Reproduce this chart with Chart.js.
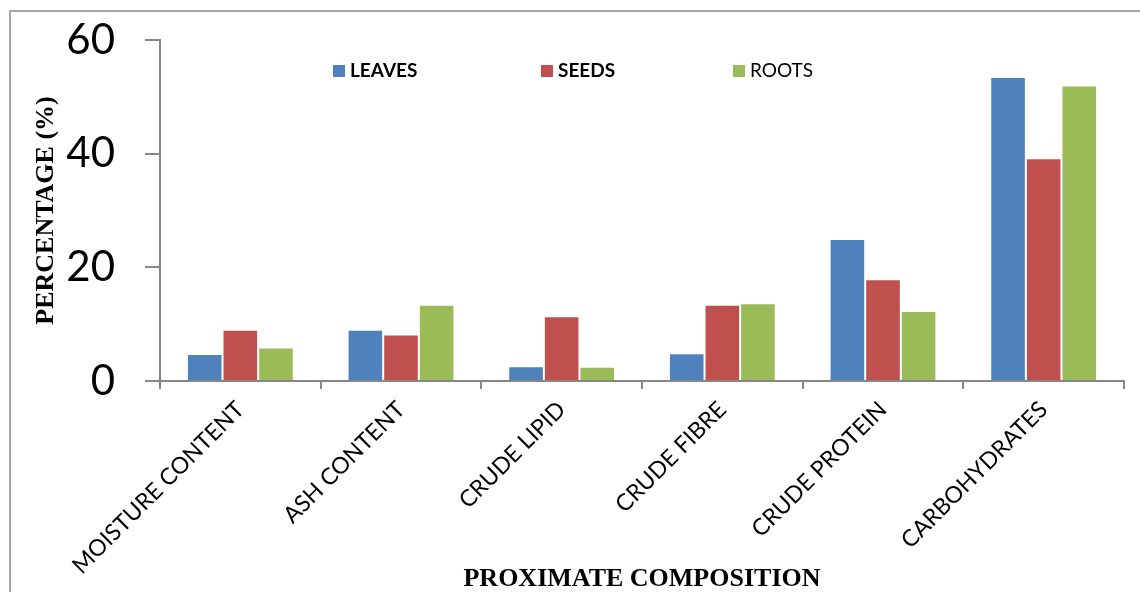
<!DOCTYPE html>
<html>
<head>
<meta charset="utf-8">
<script src="https://cdn.jsdelivr.net/npm/chart.js@4.4.1/dist/chart.umd.min.js"></script>
<style>
  html, body { margin: 0; padding: 0; background: #ffffff; overflow: hidden; }
  #wrap { position: relative; width: 1140px; height: 592px; }
  #frame { position: absolute; left: 9px; top: 10px; width: 1160px; height: 600px; border: 2px solid #a6a6a6; box-sizing: border-box; }
  canvas { position: absolute; left: 0; top: 0; }
</style>
</head>
<body>
<div id="wrap">
  <div id="frame"></div>
  <canvas id="chart" width="1140" height="592"></canvas>
</div>
<script>
// Proximate composition (%) of leaves, seeds and roots
const categories = ['MOISTURE CONTENT', 'ASH CONTENT', 'CRUDE LIPID', 'CRUDE FIBRE', 'CRUDE PROTEIN', 'CARBOHYDRATES'];
const leaves = [4.75, 9.0, 2.6, 4.9, 25.0, 53.5];
const seeds  = [9.0, 8.2, 11.4, 13.4, 17.9, 39.2];
const roots  = [5.9, 13.4, 2.5, 13.7, 12.3, 52.0];
const yTicks = [0, 20, 40, 60];

const axisGray = '#868686';

// Legend drawn on the canvas so each entry can keep its own weight
const legendPlugin = {
  id: 'rowLegend',
  afterDraw(chart, args, opts) {
    const ctx = chart.ctx;
    ctx.save();
    chart.data.datasets.forEach((ds, i) => {
      const x = opts.xs[i];
      const y = opts.y;
      ctx.fillStyle = ds.backgroundColor;
      ctx.fillRect(x, y - 6, 12, 12);
      ctx.fillStyle = '#000000';
      ctx.font = (opts.bold[i] ? 'bold ' : '') + opts.fontSize + 'px Lato';
      ctx.textAlign = 'left';
      ctx.textBaseline = 'middle';
      ctx.fillText(ds.label, x + 17, y);
    });
    ctx.restore();
  }
};

new Chart(document.getElementById('chart'), {
  type: 'bar',
  data: {
    labels: categories,
    datasets: [
      { label: 'LEAVES', data: leaves, backgroundColor: '#4F81BD' },
      { label: 'SEEDS',  data: seeds,  backgroundColor: '#C0504D' },
      { label: 'ROOTS',  data: roots,  backgroundColor: '#9BBB59' }
    ]
  },
  options: {
    responsive: false,
    animation: false,
    layout: { padding: { top: 40, right: 16, bottom: 0, left: 0 } },
    datasets: {
      bar: {
        categoryPercentage: 0.665,
        barPercentage: 1.0,
        borderWidth: 1,
        borderColor: 'rgba(255,255,255,0.55)'
      }
    },
    plugins: {
      legend: { display: false },
      tooltip: { enabled: false },
      rowLegend: { xs: [333, 541, 733], y: 71, fontSize: 19, bold: [true, true, false] }
    },
    scales: {
      x: {
        offset: true,
        grid: { offset: true, drawOnChartArea: false, drawTicks: true, tickLength: 8, color: axisGray, lineWidth: 2 },
        border: { display: true, color: axisGray, width: 2 },
        ticks: {
          autoSkip: false, minRotation: 45, maxRotation: 45, padding: 7,
          color: '#000000', font: { family: 'Lato', size: 23 }
        },
        title: {
          display: true, text: 'PROXIMATE COMPOSITION', color: '#000000',
          font: { family: 'Liberation Serif', size: 26, weight: 'bold' },
          padding: { top: 0, bottom: -3 }
        },
        afterFit(scale) { scale.height = 592 - 381; }
      },
      y: {
        min: 0, max: 60,
        afterBuildTicks(scale) { scale.ticks = yTicks.map(v => ({ value: v })); },
        grid: { drawOnChartArea: false, drawTicks: true, tickLength: 15, color: axisGray, lineWidth: 2 },
        border: { display: true, color: axisGray, width: 2 },
        ticks: { padding: 30, color: '#000000', font: { family: 'Lato', size: 42 } },
        title: {
          display: true, text: 'PERCENTAGE (%)', color: '#000000',
          font: { family: 'Liberation Serif', size: 26, weight: 'bold' },
          padding: { top: 31, bottom: 0 }
        },
        afterFit(scale) {
          scale.width = 160;
          scale.paddingTop = 0;
          scale.paddingBottom = 0;
        }
      }
    }
  },
  plugins: [legendPlugin]
});
</script>
</body>
</html>
